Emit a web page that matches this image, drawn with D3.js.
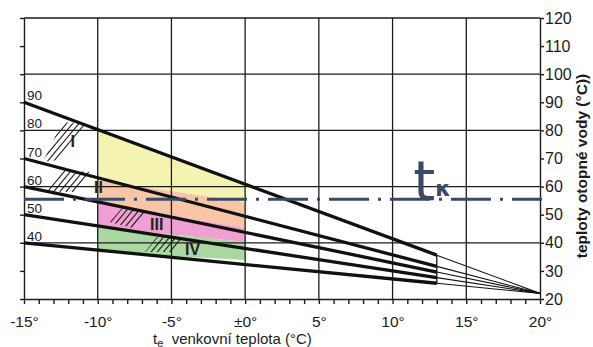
<!DOCTYPE html>
<html><head><meta charset="utf-8">
<script src="https://cdn.jsdelivr.net/npm/d3@7"></script>
<style>
html,body{margin:0;padding:0;background:#fff;}
svg{display:block;font-family:"Liberation Sans",Arial,Helvetica,sans-serif;}
</style></head><body>
<svg id="chart" width="593" height="347"></svg>
<script>
// Outdoor temperature axis (°C)
const xMajorTicks = [-15, -10, -5, 0, 5, 10, 15, 20];
const xMajorLabels = ["-15°", "-10°", "-5°", "±0°", "5°", "10°", "15°", "20°"];
const xMinorTicks = d3.range(-15, 21, 1);
const xGrid = [-10, -5, 0, 5, 10, 15];

// Heating water temperature axis (°C)
const yTicks = d3.range(20, 121, 10);
const yGrid = [40, 60, 80, 100];
const curveLabels = [90, 80, 70, 60, 50, 40];

// Heating curves: flow temperature at -15 °C, all meeting near room temperature
const curveStartTemps = [90, 70, 60, 50, 40];
const curveStartTe = -15;
const curveMeetTe = 20;
const curveMeetTemp = 22;
const curveBoldEndTe = 13;

// Condensation limit t_K
const tK = 55.5;
const tKLabelTe = 11.4;

// Coloured operating zones between te = -10 and te = 0
const zoneNames = ["I", "II", "III", "IV"];
const zoneColors = ["#f5f3b2", "#f8c6a6", "#ef9fd2", "#a9d8a0"];
const zoneFromTe = -10, zoneToTe = 0;
const zoneLowerFrom = [62.3, 54.2, 45.6, 36.7];
const zoneLowerTo = [54.5, 45.3, 40.3, 33.9];
const zoneLabelTe = [-11.7, -9.95, -6.0, -3.57];
const zoneLabelTemp = [74.1, 57.6, 44.6, 35.7];

// Hatched areas (te, temperature)
const hatchI = [[-13.71, 68.8], [-12.42, 83.0], [-10.66, 82.3], [-12.56, 69.5]];
const hatchII = [[-13.44, 58.1], [-12.56, 65.9], [-10.39, 65.2], [-11.40, 58.1]];
const hatchIII = [[-9.17, 47.4], [-8.35, 52.4], [-6.79, 51.0], [-7.67, 45.3]];
const hatchIV = [[-6.79, 36.7], [-5.98, 42.1], [-4.28, 41.7], [-4.96, 36.7]];

const svg = d3.select("#chart");
const x = d3.scaleLinear().domain([-15, 20]).range([24, 540]);
const y = d3.scaleLinear().domain([20, 120]).range([299, 18]);

const curveAt = (start, te) =>
  start + (curveMeetTemp - start) * (te - curveStartTe) / (curveMeetTe - curveStartTe);

const ink = "#1b1b1b";
const tkColor = "#3b4868";

// Zones (drawn first so grid and curves sit on top)
const zoneTopFrom = [curveAt(curveStartTemps[0], zoneFromTe)].concat(zoneLowerFrom.slice(0, -1));
const zoneTopTo = [curveAt(curveStartTemps[0], zoneToTe)].concat(zoneLowerTo.slice(0, -1));
svg.append("g").selectAll("path").data(zoneNames).join("path")
  .attr("d", (d, i) => d3.line()([
    [x(zoneFromTe), y(zoneTopFrom[i])],
    [x(zoneToTe), y(zoneTopTo[i])],
    [x(zoneToTe), y(zoneLowerTo[i])],
    [x(zoneFromTe), y(zoneLowerFrom[i])]
  ]) + "Z")
  .attr("fill", (d, i) => zoneColors[i]);

// Grid
const grid = svg.append("g").attr("stroke", ink).attr("stroke-width", 1.3);
grid.selectAll(".gx").data(xGrid).join("line")
  .attr("x1", d => x(d)).attr("x2", d => x(d))
  .attr("y1", y(120)).attr("y2", y(20));
grid.selectAll(".gy").data(yGrid.concat([120])).join("line")
  .attr("x1", x(-15)).attr("x2", x(20))
  .attr("y1", d => y(d)).attr("y2", d => y(d));

// Axes
svg.append("g").attr("transform", `translate(0,${y(20)})`)
  .call(d3.axisBottom(x).tickValues(xMinorTicks).tickSize(5).tickSizeOuter(0).tickFormat(""))
  .call(g => g.selectAll("path,line").attr("stroke", ink).attr("stroke-width", 1.4));
svg.append("g").attr("transform", `translate(0,${y(20)})`)
  .call(d3.axisBottom(x).tickValues(xMajorTicks).tickSize(0).tickPadding(16.5)
    .tickFormat((d, i) => xMajorLabels[i]))
  .call(g => g.select(".domain").remove())
  .call(g => g.selectAll("text").attr("font-size", 15.5).attr("fill", ink));

svg.append("g").attr("transform", `translate(${x(-15)},0)`)
  .call(d3.axisLeft(y).tickValues(yTicks).tickSize(4).tickSizeOuter(0).tickFormat(""))
  .call(g => g.selectAll("path,line").attr("stroke", ink).attr("stroke-width", 1.4));
svg.append("g").attr("transform", `translate(${x(20)},0)`)
  .call(d3.axisRight(y).tickValues(yTicks).tickSize(4).tickSizeOuter(0).tickPadding(1))
  .call(g => g.selectAll("path,line").attr("stroke", ink).attr("stroke-width", 1.4))
  .call(g => g.selectAll("text").attr("font-size", 16).attr("fill", ink));

// Curve value labels inside the left edge
svg.append("g").selectAll("text").data(curveLabels).join("text")
  .attr("x", x(-15) + 3).attr("y", d => y(d) - 2)
  .attr("font-size", 13.5).attr("fill", ink).text(d => d);

// Hatching
const hatches = [hatchI, hatchII, hatchIII, hatchIV];
const defs = svg.append("defs");
hatches.forEach((poly, k) => {
  const pts = poly.map(p => [x(p[0]), y(p[1])]);
  defs.append("clipPath").attr("id", "hc" + k)
    .append("path").attr("d", d3.line()(pts) + "Z");
  const xs = pts.map(p => p[0]), ys = pts.map(p => p[1]);
  const x0 = d3.min(xs), x1 = d3.max(xs), y0 = d3.min(ys), y1 = d3.max(ys);
  const h = y1 - y0, run = h / 1.2;
  const g = svg.append("g").attr("clip-path", `url(#hc${k})`);
  g.selectAll("line").data(d3.range(x0 - run, x1 + 1, 6.2)).join("line")
    .attr("x1", d => d).attr("y1", y1)
    .attr("x2", d => d + run).attr("y2", y0)
    .attr("stroke", ink).attr("stroke-width", 1.1);
});

// Heating curves: bold up to 13 °C, thin to the meeting point
const curves = svg.append("g").attr("fill", "none").attr("stroke", "#111");
curves.selectAll(".bold").data(curveStartTemps).join("line")
  .attr("x1", x(curveStartTe)).attr("y1", d => y(d))
  .attr("x2", x(curveBoldEndTe)).attr("y2", d => y(curveAt(d, curveBoldEndTe)))
  .attr("stroke-width", 3.3);
curves.selectAll(".thin").data(curveStartTemps).join("line")
  .attr("x1", x(curveBoldEndTe)).attr("y1", d => y(curveAt(d, curveBoldEndTe)))
  .attr("x2", x(curveMeetTe)).attr("y2", y(curveMeetTemp))
  .attr("stroke-width", 1.1);
curves.append("line")
  .attr("x1", x(curveBoldEndTe)).attr("x2", x(curveBoldEndTe))
  .attr("y1", y(curveAt(d3.max(curveStartTemps), curveBoldEndTe)))
  .attr("y2", y(curveAt(d3.min(curveStartTemps), curveBoldEndTe)))
  .attr("stroke-width", 1.3);

// t_K line
svg.append("line")
  .attr("x1", x(-15)).attr("x2", x(20) + 2)
  .attr("y1", y(tK)).attr("y2", y(tK))
  .attr("stroke", tkColor).attr("stroke-width", 3.2)
  .attr("stroke-dasharray", "40,9,3,9");
const tkLabel = svg.append("text")
  .attr("x", x(tKLabelTe)).attr("y", y(tK) + 1)
  .attr("fill", tkColor).attr("font-family", "DejaVu Sans, sans-serif");
tkLabel.append("tspan").attr("font-size", 56).text("t");
tkLabel.append("tspan").attr("font-size", 22).attr("font-weight", "bold").attr("dy", -4).text("κ");

// Zone labels
svg.append("g").selectAll("text").data(zoneNames).join("text")
  .attr("x", (d, i) => x(zoneLabelTe[i])).attr("y", (d, i) => y(zoneLabelTemp[i]))
  .attr("text-anchor", "middle").attr("font-size", 16).attr("font-weight", "bold")
  .attr("fill", "#222").text(d => d);

// Axis titles
const xt = svg.append("text").attr("x", 153).attr("y", 344)
  .attr("font-size", 15).attr("fill", ink);
xt.append("tspan").text("t");
xt.append("tspan").attr("font-size", 11).attr("dy", 2.5).text("e");
xt.append("tspan").attr("dy", -2.5).attr("xml:space", "preserve").text("  venkovní teplota (°C)");

svg.append("text")
  .attr("transform", "translate(587,166) rotate(-90)")
  .attr("text-anchor", "middle").attr("font-size", 15.5).attr("font-weight", "bold")
  .attr("fill", ink).text("teploty otopné vody (°C))");
</script>
</body></html>
